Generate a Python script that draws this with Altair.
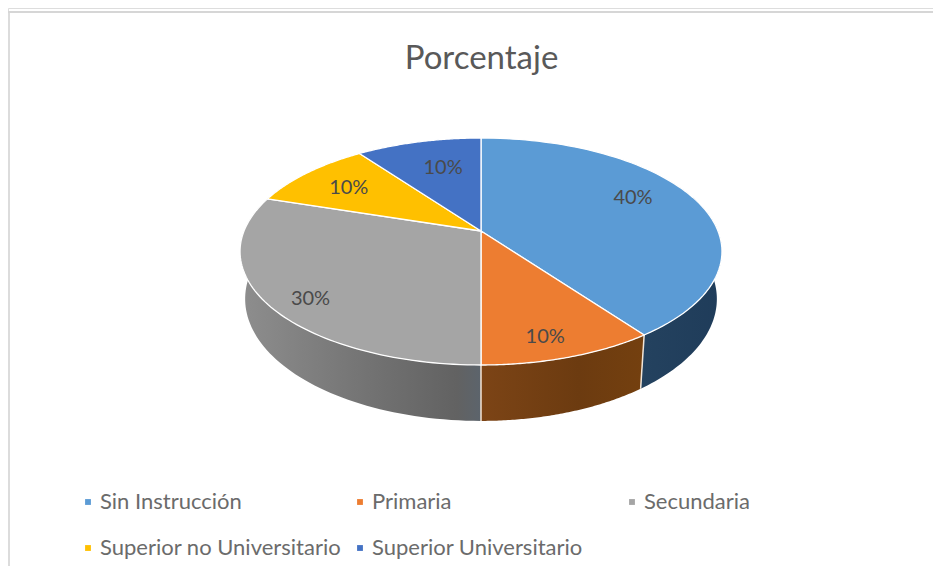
import numpy as np
import pandas as pd
import altair as alt

# values
categories = ["Sin Instrucción", "Primaria", "Secundaria", "Superior no Universitario", "Superior Universitario"]
shares = [40, 10, 30, 10, 10]
labels = ["40%", "10%", "30%", "10%", "10%"]
colors = ["#5B9BD5", "#ED7D31", "#A5A5A5", "#FFC000", "#4472C4"]
title_text = "Porcentaje"

# perspective model of the disc (screen units)
CX, TOP_Y, A, B, K = 481.0, 231.0, 237.0, 109.8, 0.1806
BOT_Y, A2, B2, K2 = 277.0, 232.0, 118.0, 0.18
W, H = 925, 558


def project(theta_deg, r=1.0, cy=TOP_Y, a=A, b=B, k=K):
    t = np.radians(theta_deg)
    u, v = r * np.sin(t), r * np.cos(t)
    d = 1 + k * v
    return CX + a * u / d, cy - b * v / d


edges = np.cumsum([0] + shares) * 3.6
faces, walls, seps = [], [], []
for i, cat in enumerate(categories):
    ang = np.linspace(edges[i], edges[i + 1], 80)
    xs, ys = project(ang)
    px = [CX] + list(xs) + [CX]
    py = [TOP_Y] + list(ys) + [TOP_Y]
    for j, (a_, b_) in enumerate(zip(px, py)):
        faces.append(dict(cat=cat, n=j, x=a_, y=b_))

# front walls: each gets the angular range that can be seen
wall_ranges = [(60, edges[1]), (edges[1], edges[2]), (edges[2], 300)]
wall_grads = [
    [("#24425f", 0), ("#1f3c5a", 1)],
    [("#7c4416", 0), ("#6c3b10", 0.6), ("#74400f", 1)],
    [("#8e8e8e", 0), ("#727272", 0.55), ("#626262", 0.9), ("#5c646c", 1)],
]
wall_layers = []
X = alt.X("x:Q", scale=alt.Scale(domain=[8, 8 + W], nice=False, zero=False), axis=None)
Y = alt.Y("y:Q", scale=alt.Scale(domain=[8 + H, 8], nice=False, zero=False), axis=None)

for (a0, a1), grad in zip(wall_ranges, wall_grads):
    ang = np.linspace(a0, a1, 80)
    tx, ty = project(ang)
    bx, by = project(ang, cy=BOT_Y, a=A2, b=B2, k=K2)
    xx = list(tx) + list(bx[::-1]) + [tx[0]]
    yy = list(ty) + list(by[::-1]) + [ty[0]]
    df = pd.DataFrame(dict(n=range(len(xx)), x=xx, y=yy))
    wall_layers.append(
        alt.Chart(df).mark_line(
            fill=alt.Gradient(
                gradient="linear", x1=0, x2=1, y1=0, y2=0,
                stops=[alt.GradientStop(color=c, offset=o) for c, o in grad],
            ),
            strokeWidth=0,
            interpolate="linear",
        ).encode(x=X, y=Y, order="n:Q")
    )

# separators between the walls
for e in (edges[1], edges[2]):
    tx, ty = project(e)
    bx, by = project(e, cy=BOT_Y, a=A2, b=B2, k=K2)
    seps.append(dict(s=e, n=0, x=float(tx), y=float(ty)))
    seps.append(dict(s=e, n=1, x=float(bx), y=float(by)))

sep_layer = alt.Chart(pd.DataFrame(seps)).mark_line(color="#f3e6d8", strokeWidth=1.5).encode(
    x=X, y=Y, detail="s:N", order="n:Q"
)

face_layer = alt.Chart(pd.DataFrame(faces)).mark_line(
    stroke="#ffffff", strokeWidth=1.3, strokeJoin="round", interpolate="linear"
).encode(
    x=X, y=Y, order="n:Q",
    fill=alt.Fill(
        "cat:N",
        scale=alt.Scale(domain=categories, range=colors),
        legend=alt.Legend(
            title=None, orient="none", legendX=69, legendY=483, columns=3,
            direction="horizontal",
            gridAlign="all", symbolType="square", symbolSize=34, symbolStrokeWidth=0,
            labelFont="Lato", labelFontSize=22, labelColor="#6b6b6b",
            labelOffset=1, columnPadding=7, rowPadding=24, labelLimit=400, padding=0,
        ),
    ),
    detail="cat:N",
)

# data labels
mid = (edges[:-1] + edges[1:]) / 2
lx, ly = project(mid, r=0.72)
nudge_x = [-4, 4, -21, -4, 9]
nudge_y = [-10, 20, 18, 0, 4]
lab = pd.DataFrame(dict(x=lx + nudge_x, y=ly + nudge_y, t=labels))
label_layer = alt.Chart(lab).mark_text(
    font="Lato", fontSize=20, color="#4a4a4a", baseline="middle", align="center"
).encode(x=X, y=Y, text="t:N")

# chart frame (top and left edges)
frame_left = alt.Chart(pd.DataFrame({"a": [0]})).mark_rule(color="#dcdcdc", strokeWidth=2).encode(
    x=alt.value(1), y=alt.value(3), y2=alt.value(H)
)
frame_top = alt.Chart(pd.DataFrame({"a": [0]})).mark_rule(color="#d6d6d6", strokeWidth=2).encode(
    x=alt.value(0), x2=alt.value(W), y=alt.value(4)
)

chart = alt.layer(frame_left, frame_top, *wall_layers, sep_layer, face_layer, label_layer).properties(
    width=W, height=H,
    padding=0,
    autosize=alt.AutoSizeParams(type="none"),
    title=alt.TitleParams(
        title_text, font="Lato", fontSize=33, fontWeight="normal", color="#595959",
        anchor="middle", dx=11, dy=98, baseline="alphabetic",
    ),
).configure_view(stroke=None).configure(background="#ffffff")

chart.save("out.html", embed_options={"renderer": "svg", "actions": False})
